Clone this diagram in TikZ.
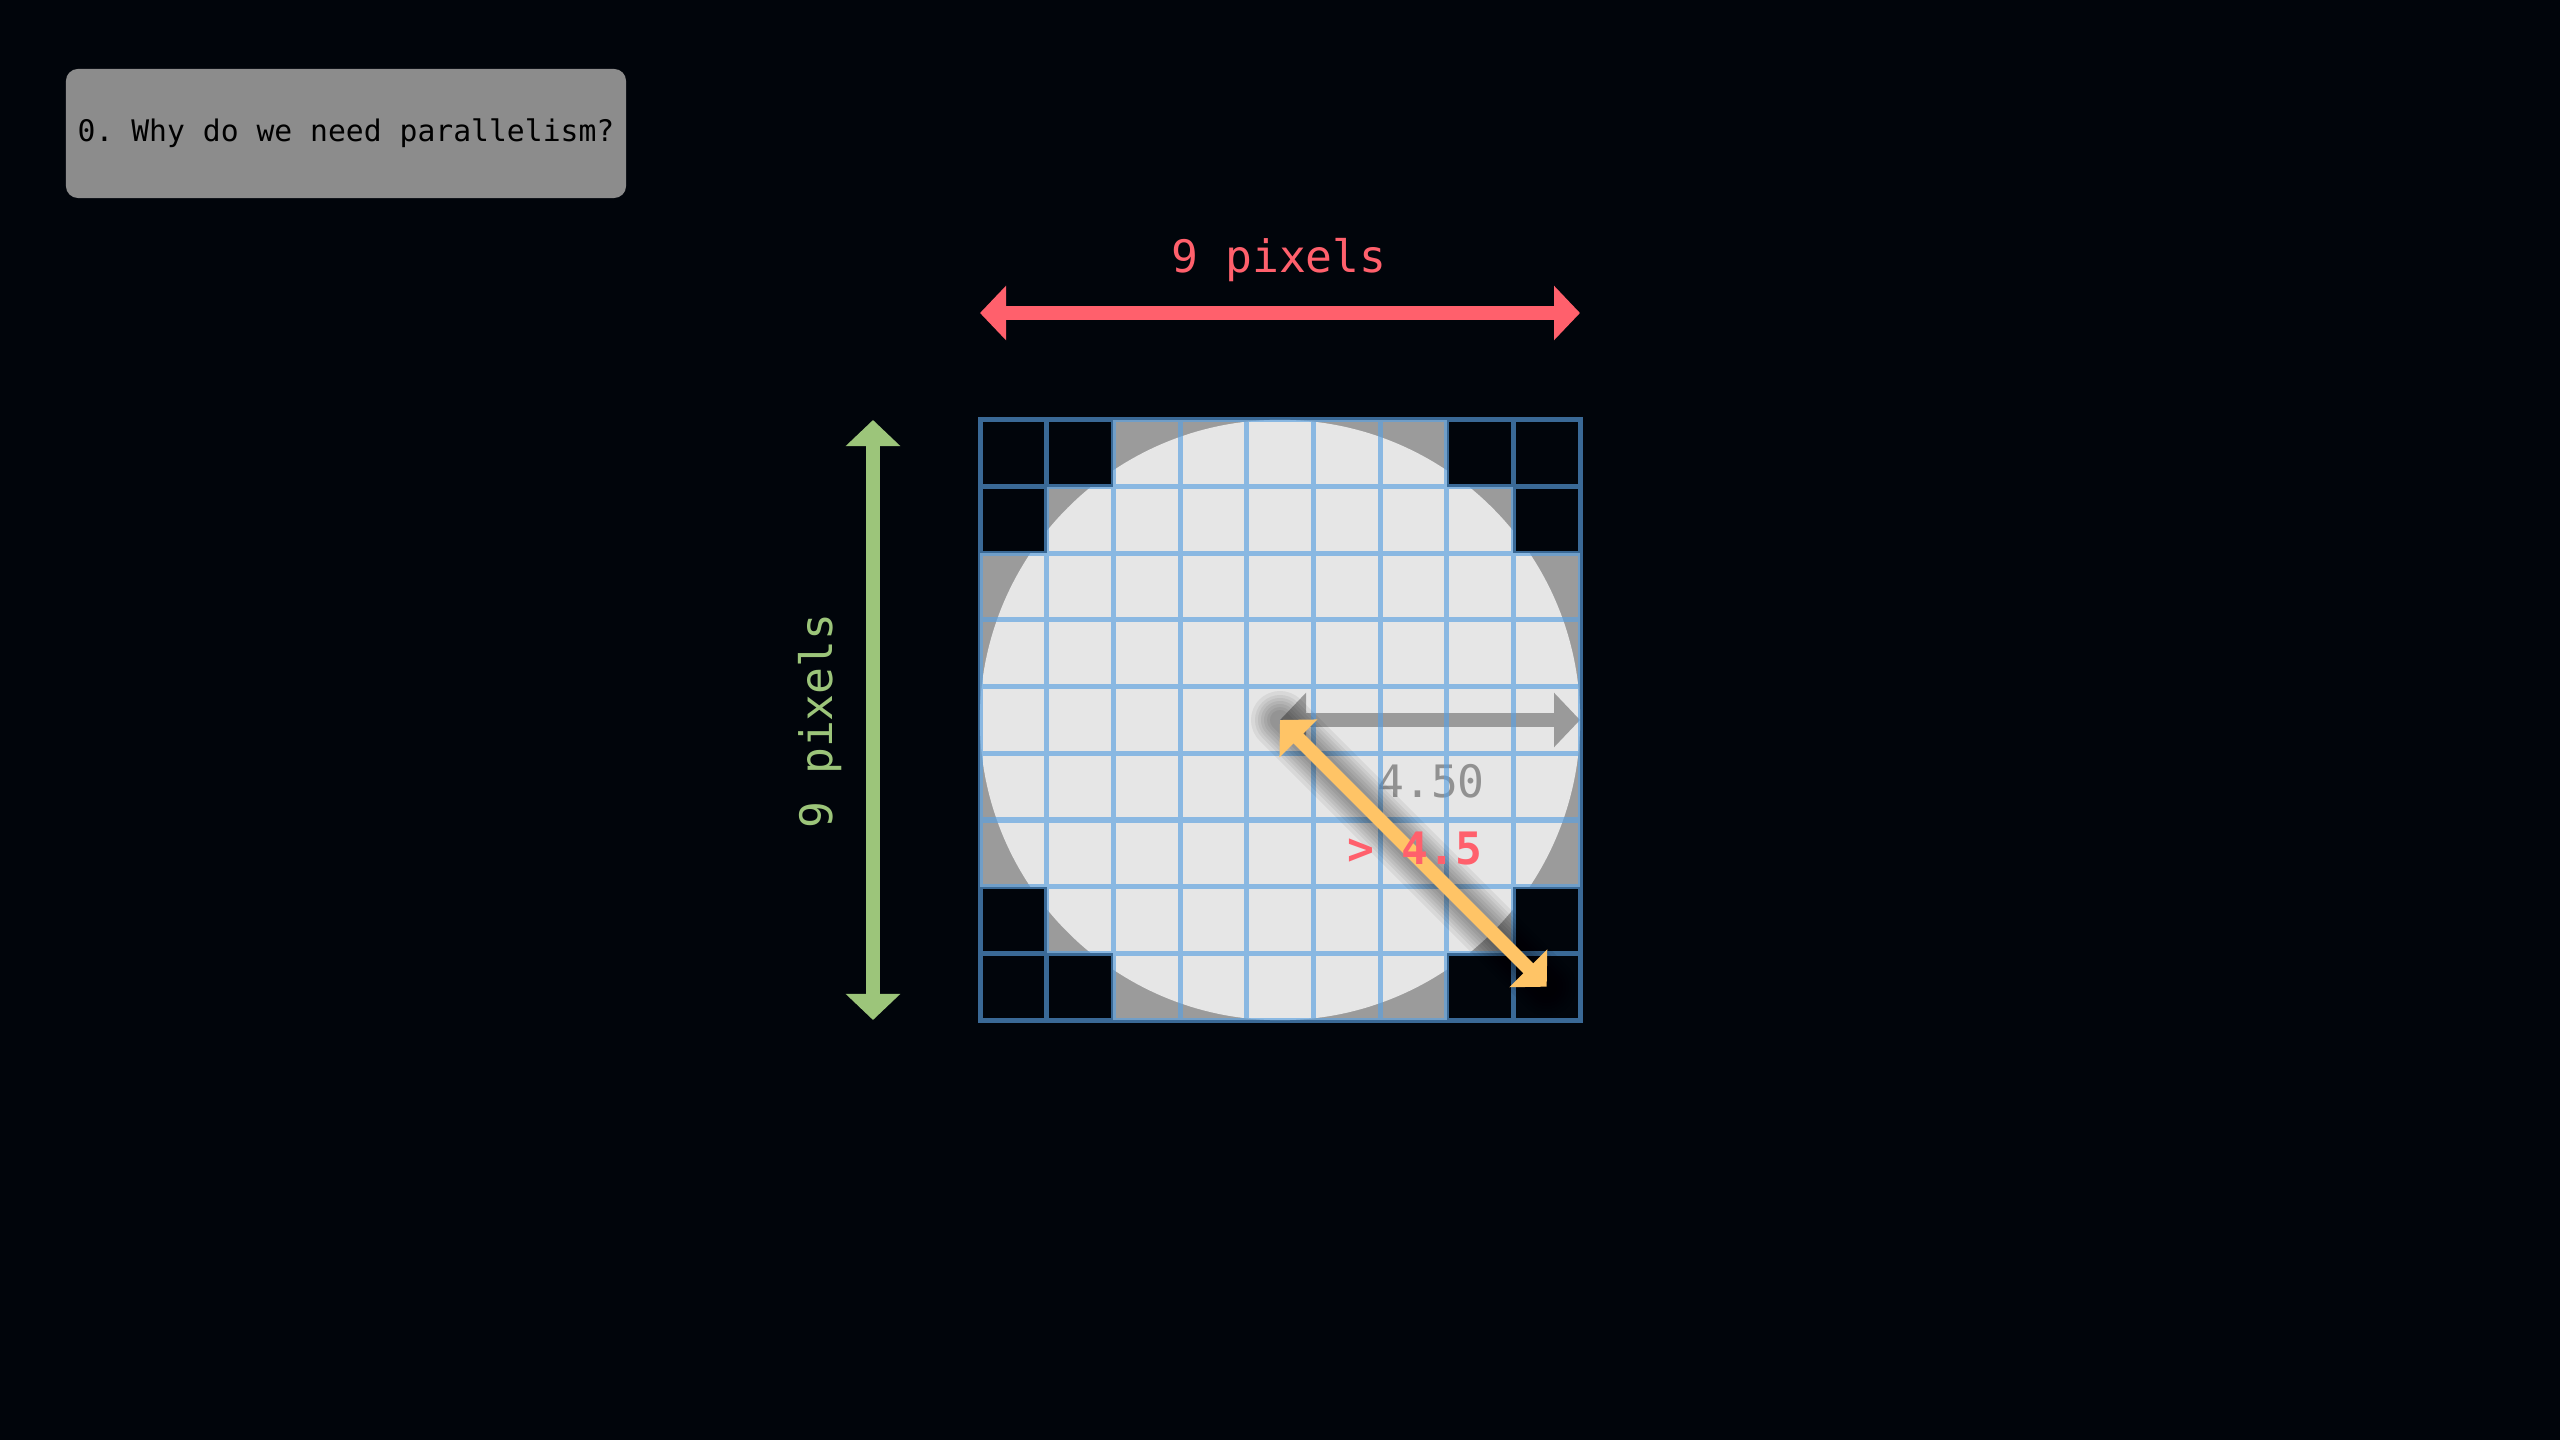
\documentclass[tikz,border=0pt]{standalone}
\usepackage{fontspec}
\setmonofont{DejaVu Sans Mono}
\usetikzlibrary{arrows.meta}

\definecolor{bg}{RGB}{1,5,11}
\definecolor{boxgray}{RGB}{140,140,140}
\definecolor{pxred}{RGB}{255,96,108}
\definecolor{pxgreen}{RGB}{156,197,122}
\definecolor{pxyellow}{RGB}{255,196,102}
\definecolor{cellgray}{RGB}{155,155,155}
\definecolor{disc}{RGB}{230,230,230}
\definecolor{gridblue}{RGB}{90,160,225}
\definecolor{rulegray}{RGB}{154,154,154}
\definecolor{labgray}{RGB}{145,145,145}

\tikzset{big/.style={font=\ttfamily\fontsize{12.7}{15}\selectfont},
	dimarrow/.style={line width=0.133cm,>={Triangle[length=0.26cm,width=0.53cm]},<->}}

\begin{document}
\begin{tikzpicture}[x=0.01cm,y=-0.01cm]
	\fill[bg] (0,0) rectangle (2560,1440);
	\useasboundingbox (0,0) rectangle (2560,1440);

	\node[fill=boxgray,rounded corners=0.12cm,minimum width=5.58cm,minimum height=1.29cm,text=black,font=\ttfamily\fontsize{8.45}{10}\selectfont] (t) at (346,133.5) {0. Why do we need parallelism?};

	\fill[cellgray] (980,420) rectangle (1580,1020);
	\fill[disc] (1280,720) circle [radius=3cm];
	\foreach \i in {0,...,8} \foreach \j in {0,...,8} {
		\pgfmathtruncatemacro\dd{(\i-4)*(\i-4)+(\j-4)*(\j-4)}
		\ifnum\dd>20 \fill[bg] (980+\i*66.667,420+\j*66.667) rectangle +(66.667,66.667); \fi
	}

	\coordinate (c) at (1280,720);
	\coordinate (e) at (1580,720);
	\coordinate (k) at (1546.7,986.7);
	\coordinate (wl) at (980,313);
	\coordinate (wr) at (1580,313);
	\coordinate (ht) at (873,420);
	\coordinate (hb) at (873,1020);

	\draw[dimarrow,rulegray] (c) -- (e);
	\node[big,text=labgray,anchor=base] (r) at (1431,798) {4.50};

	\draw[gridblue,draw opacity=0.65,line width=0.05cm,line cap=rect] \foreach \k in {0,...,9} {(980+\k*66.667,420) -- (980+\k*66.667,1020) (980,420+\k*66.667) -- (1580,420+\k*66.667)};

	\foreach \w in {0.2,0.26,0.32,0.38,0.44,0.5,0.58} \draw[black,opacity=0.06,line width=\w cm,line cap=round] (c) -- (k);
	\draw[pxyellow,line width=0.14cm,>={Triangle[length=0.26cm,width=0.52cm]},<->] (c) -- (k);
	\node[big,text=pxred,anchor=base] (g) at (1415,865) {\bfseries > 4.5};

	\draw[dimarrow,pxred] (wl) -- (wr);
	\node[big,text=pxred,anchor=base] (w) at (1279,273) {9 pixels};
	\draw[dimarrow,pxgreen] (ht) -- (hb);
	\node[big,text=pxgreen,anchor=base,rotate=90] (h) at (832,721) {9 pixels};
\end{tikzpicture}
\end{document}
